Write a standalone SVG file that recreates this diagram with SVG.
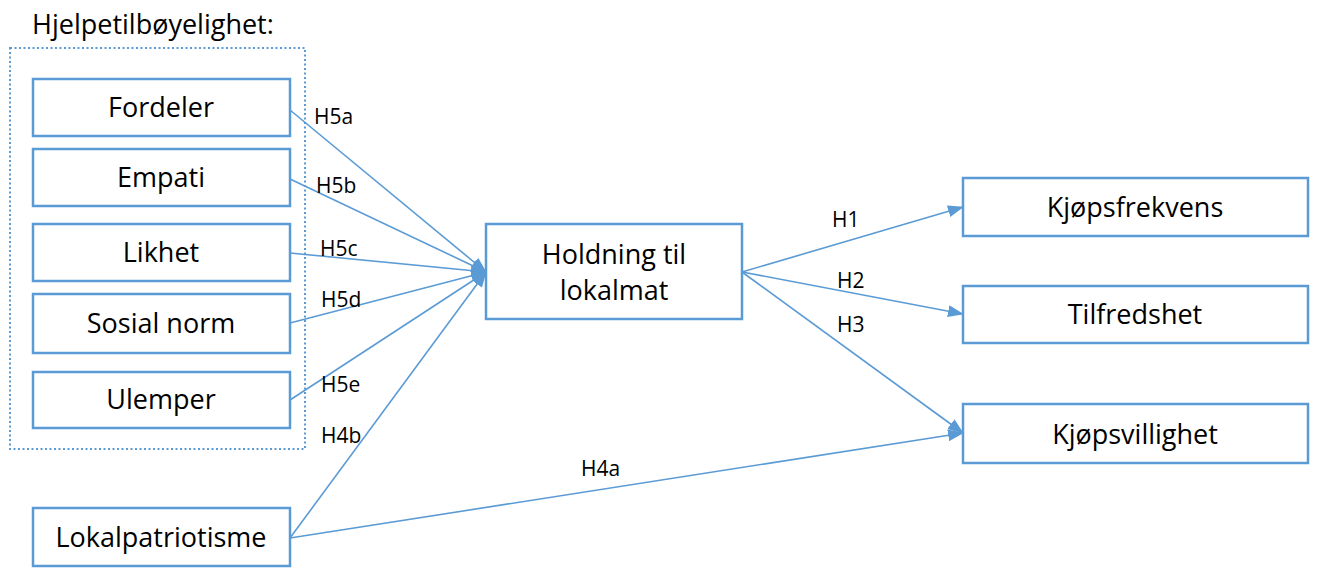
<svg xmlns="http://www.w3.org/2000/svg" width="1317" height="568" viewBox="0 0 1317 568">
<style>
.box{fill:#fff;stroke:#5B9BD5;stroke-width:2.5}
.t{font-family:"Open Sans","Liberation Sans",sans-serif;font-size:27px;fill:#000;text-anchor:middle}
.l{font-family:"Open Sans","Liberation Sans",sans-serif;font-size:21px;fill:#000}
.c{fill:none;stroke:#5B9BD5;stroke-width:1.6}
</style>
<defs>
<marker id="ahL" markerWidth="16" markerHeight="12" refX="15" refY="6" orient="auto" markerUnits="userSpaceOnUse" viewBox="0 0 16 12">
<path d="M0,0 L16,6 L0,12 Z" fill="#5B9BD5"/>
</marker>
</defs>
<rect width="1317" height="568" fill="#fff"/>
<text x="32" y="34" font-family="Open Sans, Liberation Sans, sans-serif" font-size="27" fill="#000">Hjelpetilbøyelighet:</text>
<rect x="10" y="48" width="295" height="401" fill="none" stroke="#5B9BD5" stroke-width="2" stroke-dasharray="2,2.5"/>
<g id="connectors">
<line class="c" x1="290" y1="110" x2="486" y2="272" marker-end="url(#ahL)"/>
<line class="c" x1="290" y1="179" x2="486" y2="272" marker-end="url(#ahL)"/>
<line class="c" x1="290" y1="253" x2="486" y2="272" marker-end="url(#ahL)"/>
<line class="c" x1="290" y1="323" x2="486" y2="272" marker-end="url(#ahL)"/>
<line class="c" x1="290" y1="400" x2="486" y2="272" marker-end="url(#ahL)"/>
<line class="c" x1="290" y1="538" x2="486" y2="272" marker-end="url(#ahL)"/>
<line class="c" x1="290" y1="538" x2="963" y2="433" marker-end="url(#ahL)"/>
<line class="c" x1="742" y1="272" x2="963" y2="207" marker-end="url(#ahL)"/>
<line class="c" x1="742" y1="272" x2="963" y2="314" marker-end="url(#ahL)"/>
<line class="c" x1="742" y1="272" x2="963" y2="433" marker-end="url(#ahL)"/>
<text class="l" x="314" y="124">H5a</text>
<text class="l" x="316" y="193">H5b</text>
<text class="l" x="320" y="256">H5c</text>
<text class="l" x="321" y="307">H5d</text>
<text class="l" x="321" y="392">H5e</text>
<text class="l" x="321" y="443">H4b</text>
<text class="l" x="581" y="476">H4a</text>
<text class="l" x="832" y="227">H1</text>
<text class="l" x="837" y="288">H2</text>
<text class="l" x="837" y="332">H3</text>
</g>
<g id="fordeler"><rect class="box" x="33" y="79" width="257" height="57"/><text class="t" x="161" y="117">Fordeler</text></g>
<g id="empati"><rect class="box" x="33" y="149" width="257" height="57"/><text class="t" x="161" y="187">Empati</text></g>
<g id="likhet"><rect class="box" x="33" y="224" width="257" height="57"/><text class="t" x="161" y="262">Likhet</text></g>
<g id="sosialnorm"><rect class="box" x="33" y="294" width="257" height="59"/><text class="t" x="161" y="333">Sosial norm</text></g>
<g id="ulemper"><rect class="box" x="33" y="372" width="257" height="56"/><text class="t" x="161" y="409">Ulemper</text></g>
<g id="lokalpatriotisme"><rect class="box" x="33" y="508" width="257" height="58"/><text class="t" x="161" y="547">Lokalpatriotisme</text></g>
<g id="holdning"><rect class="box" x="486" y="224" width="256" height="95"/><text class="t" x="614" y="264">Holdning til</text><text class="t" x="614" y="300">lokalmat</text></g>
<g id="kjopsfrekvens"><rect class="box" x="963" y="178" width="345" height="58"/><text class="t" x="1135" y="217">Kjøpsfrekvens</text></g>
<g id="tilfredshet"><rect class="box" x="963" y="286" width="345" height="57"/><text class="t" x="1135" y="324">Tilfredshet</text></g>
<g id="kjopsvillighet"><rect class="box" x="963" y="404" width="345" height="59"/><text class="t" x="1135" y="444">Kjøpsvillighet</text></g>
</svg>
